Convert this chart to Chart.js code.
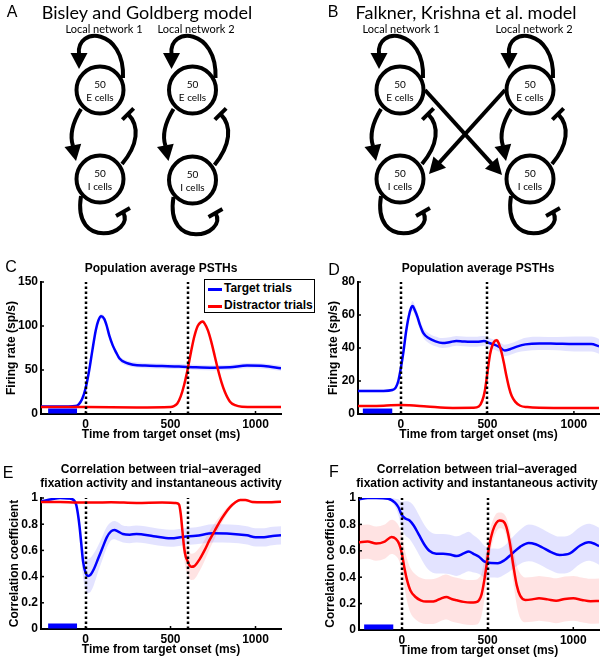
<!DOCTYPE html>
<html><head><meta charset="utf-8">
<script src="https://cdn.jsdelivr.net/npm/chart.js@4"></script>
<style>
body{margin:0;width:604px;height:662px;background:#fff;position:relative;overflow:hidden;font-family:"Liberation Sans",Arial,sans-serif;color:#000;}
.t{position:absolute;white-space:nowrap;transform:translate(-50%,-50%);z-index:5;}
canvas{position:absolute;}
.letter{font-size:16px;}
.ptitle{font-weight:bold;font-size:12px;text-align:center;line-height:14px;}
.net{font-family:Lato,"Open Sans",sans-serif;}
.big{font-size:18px;}
.small{font-size:11px;}
.cell{font-size:10px;text-align:center;line-height:13px;}
#legend{position:absolute;left:204px;top:279px;width:109px;height:32px;border:1.5px solid #000;background:#fff;z-index:6;font-weight:bold;font-size:12px;}
#legend .row{position:absolute;left:0;height:14px;}
#legend .sw{position:absolute;left:3px;top:6px;width:14px;height:2.5px;}
#legend .tx{position:absolute;left:19px;top:-1px;white-space:nowrap;}
</style></head><body>
<canvas id="diag" width="604" height="255" style="left:0;top:0"></canvas>
<canvas id="cC" width="302" height="187" style="left:0;top:255px"></canvas>
<canvas id="cD" width="302" height="187" style="left:302px;top:255px"></canvas>
<canvas id="cE" width="302" height="187" style="left:0;top:470px"></canvas>
<canvas id="cF" width="302" height="188" style="left:302px;top:470px"></canvas>

<div class="t letter" style="left:12px;top:12px">A</div>
<div class="t net big" style="left:147px;top:12px">Bisley and Goldberg model</div>
<div class="t letter" style="left:333px;top:12px">B</div>
<div class="t net big" style="left:466px;top:12px">Falkner, Krishna et al. model</div>
<div class="t net small" style="left:104px;top:28px">Local network 1</div>
<div class="t net small" style="left:196px;top:28px">Local network 2</div>
<div class="t net small" style="left:401px;top:28px">Local network 1</div>
<div class="t net small" style="left:534px;top:28px">Local network 2</div>
<div id="cells"></div>

<div class="t letter" style="left:11px;top:267px">C</div>
<div class="t ptitle" style="left:161px;top:268px">Population average PSTHs</div>
<div class="t letter" style="left:334px;top:270px">D</div>
<div class="t ptitle" style="left:478px;top:268px">Population average PSTHs</div>
<div class="t letter" style="left:8px;top:473px">E</div>
<div class="t ptitle" style="left:161px;top:476px">Correlation between trial&#8722;averaged<br>fixation activity and instantaneous activity</div>
<div class="t letter" style="left:334px;top:472px">F</div>
<div class="t ptitle" style="left:477px;top:476px">Correlation between trial&#8722;averaged<br>fixation activity and instantaneous activity</div>

<div id="legend">
  <div class="row" style="top:2px"><div class="sw" style="background:#0000ff"></div><div class="tx">Target trials</div></div>
  <div class="row" style="top:19px"><div class="sw" style="background:#ff0000"></div><div class="tx">Distractor trials</div></div>
</div>

<script>
// ---------- DATA ----------
const xTitle = 'Time from target onset (ms)';
const legendLabels = ['Target trials', 'Distractor trials'];
const fixationBar = [-220, -50];
const markersCE = [0, 600];
const markersDF = [0, 500];
const xTickValues = [0, 500, 1000];

// Panel C: Bisley & Goldberg PSTH (sp/s)
const cTgtT = [-262,-100,-60,-40,-20,0,20,40,60,75,92,110,125,140,160,180,200,240,280,350,450,550,650,750,850,950,1050,1150];
const cTgtV = [8.5,8.5,9,11,17,29,48,72,95,106,111,108,100,89,78,70,63,58,56,55,54.5,54,53,52.5,53,55,54.5,52];
const cTgtE = [1,1,1,1.5,2,2,2.5,3,3,3,3,3,3,3,3,3,3,3,3,3,3,3,3,3,3,3,3,3];
const cDisT = [-262,0,300,500,520,540,560,580,600,620,640,660,680,690,700,720,740,760,780,800,820,850,880,920,1000,1150];
const cDisV = [8,8,7.5,8,9,12,20,33,50,70,88,100,104.5,105,103,95,82,66,50,36,25,14,10,8.3,8,8];
const cDisE = [0.5,0.5,0.5,0.5,0.5,0.6,0.8,1,1.2,1.5,1.5,1.5,1.5,1.5,1.5,1.5,1.5,1.5,1.2,1,0.8,0.6,0.5,0.5,0.5,0.5];

// Panel D: Falkner, Krishna et al. PSTH (sp/s)
const dTgtT = [-248,-100,-50,-30,-15,0,15,30,45,60,68,80,95,110,130,160,200,240,280,320,360,400,440,480,510,540,570,600,630,670,720,800,900,1000,1100,1145];
const dTgtV = [14,14,14.5,16,20,28,38,50,59,64.5,65.5,63,59,54,49,46,44,43,43.5,44.3,44,43.8,43.8,44.2,43,42,40.5,38.5,39.2,40.8,42.2,42.8,42.6,42.4,42.4,41];
const dTgtE = [0.8,0.8,0.8,0.8,1,1.5,2,2.5,3,3,3,3,3,3,3,3,3,3,3,3,3,3,3,3,3,3,3,3.5,3.5,3.5,4,4,4,4.5,4.5,4.5];
const dDisT = [-248,-100,0,50,150,300,420,450,470,485,500,515,530,545,555,565,580,595,610,625,640,660,690,730,800,1000,1145];
const dDisV = [4.8,5,5.5,5.3,4.6,3.7,3.8,4.5,8,14,25,36,42,44.5,44.7,43,38,31,23,16,11,7.5,5,4.2,3.8,3.7,3.7];
const dDisE = [0.4,0.4,0.4,0.4,0.4,0.4,0.4,0.4,0.5,0.6,0.8,1,1,1,1,1,1,1,1,0.8,0.6,0.5,0.4,0.4,0.4,0.4,0.4];

// Panel E: correlation, Bisley & Goldberg
const eTgtT = [-262,-200,-150,-100,-70,-55,-45,-35,-25,-15,0,15,30,50,75,100,125,150,170,190,220,260,300,400,500,580,650,750,850,950,1000,1050,1100,1150];
const eTgtV = [0.975,0.99,1.0,0.997,0.985,0.95,0.88,0.78,0.65,0.52,0.43,0.405,0.415,0.46,0.54,0.62,0.7,0.745,0.755,0.745,0.725,0.72,0.725,0.708,0.692,0.705,0.712,0.73,0.728,0.715,0.7,0.7,0.71,0.715];
const eTgtE = [0.01,0.01,0.01,0.01,0.01,0.02,0.04,0.07,0.1,0.12,0.13,0.13,0.13,0.12,0.1,0.09,0.08,0.07,0.07,0.07,0.065,0.065,0.065,0.065,0.065,0.065,0.065,0.07,0.07,0.07,0.07,0.07,0.07,0.07];
const eDisT = [-262,-150,-50,50,150,300,450,530,550,560,570,580,590,600,610,622,640,670,700,730,760,790,820,850,880,910,940,980,1050,1150];
const eDisV = [0.97,0.97,0.965,0.965,0.968,0.962,0.965,0.962,0.95,0.88,0.75,0.62,0.55,0.52,0.49,0.475,0.48,0.53,0.6,0.68,0.75,0.82,0.88,0.93,0.965,0.985,0.985,0.97,0.968,0.972];
const eDisE = [0.005,0.005,0.005,0.005,0.005,0.005,0.005,0.01,0.02,0.04,0.06,0.08,0.09,0.1,0.1,0.1,0.1,0.09,0.08,0.07,0.06,0.04,0.03,0.02,0.01,0.01,0.01,0.01,0.01,0.01];

// Panel F: correlation, Falkner, Krishna et al.
const fTgtT = [-250,-200,-150,-80,-40,-20,0,20,45,70,100,130,160,200,240,280,320,360,390,420,450,480,520,560,600,640,690,740,780,820,870,920,980,1040,1090,1120,1150];
const fTgtV = [0.99,1.0,1.0,0.995,0.965,0.93,0.87,0.845,0.83,0.79,0.72,0.65,0.6,0.578,0.578,0.572,0.56,0.58,0.595,0.575,0.555,0.52,0.507,0.506,0.53,0.575,0.63,0.66,0.65,0.625,0.59,0.568,0.58,0.64,0.665,0.655,0.635];
const fTgtE = [0.01,0.01,0.01,0.01,0.03,0.06,0.1,0.13,0.14,0.15,0.15,0.15,0.15,0.15,0.15,0.15,0.15,0.15,0.15,0.14,0.13,0.12,0.11,0.11,0.11,0.12,0.13,0.14,0.14,0.14,0.14,0.14,0.14,0.14,0.14,0.14,0.14];
const fDisT = [-250,-200,-150,-100,-60,-35,-15,0,15,30,50,80,110,140,170,200,230,260,290,320,360,400,430,450,465,480,495,510,530,550,570,590,610,630,650,670,690,720,760,800,850,900,950,1000,1050,1100,1150];
const fDisV = [0.665,0.67,0.655,0.67,0.705,0.69,0.65,0.58,0.47,0.38,0.3,0.25,0.225,0.215,0.215,0.222,0.24,0.25,0.235,0.225,0.213,0.208,0.21,0.225,0.27,0.37,0.5,0.64,0.75,0.81,0.83,0.825,0.78,0.66,0.49,0.34,0.26,0.228,0.232,0.24,0.232,0.222,0.235,0.24,0.228,0.218,0.22];
const fDisE = [0.13,0.13,0.13,0.13,0.13,0.13,0.13,0.14,0.15,0.16,0.17,0.17,0.17,0.17,0.17,0.17,0.17,0.17,0.17,0.17,0.17,0.17,0.17,0.17,0.16,0.15,0.12,0.1,0.08,0.07,0.06,0.06,0.07,0.1,0.13,0.15,0.17,0.17,0.17,0.17,0.17,0.17,0.17,0.17,0.17,0.17,0.17];

// ---------- DIAGRAMS ----------
const dg = document.getElementById('diag').getContext('2d');
function arrowHead(ctx, tx, ty, ang, len, hw) {
  const bx = tx - len*Math.cos(ang), by = ty - len*Math.sin(ang);
  const px = -Math.sin(ang)*hw, py = Math.cos(ang)*hw;
  ctx.beginPath(); ctx.moveTo(tx,ty); ctx.lineTo(bx+px,by+py); ctx.lineTo(bx-px,by-py); ctx.closePath(); ctx.fill();
}
function tbar(ctx, x, y, ang, hl) {
  const px = -Math.sin(ang)*hl, py = Math.cos(ang)*hl;
  ctx.beginPath(); ctx.moveTo(x+px,y+py); ctx.lineTo(x-px,y-py); ctx.stroke();
}
const cellsDiv = document.getElementById('cells');
function cellText(x, y, l2) {
  const d = document.createElement('div');
  d.className = 't net cell'; d.style.left = x+'px'; d.style.top = y+'px';
  d.innerHTML = '50<br>' + l2; cellsDiv.appendChild(d);
}
function drawNet(ctx, cx, ey, iy) {
  ctx.lineWidth = 4; ctx.strokeStyle = '#000'; ctx.fillStyle = '#000'; ctx.lineCap = 'butt';
  [ey, iy].forEach(y => { ctx.beginPath(); ctx.arc(cx, y, 23.5, 0, Math.PI*2); ctx.stroke(); });
  // E self-excitation
  ctx.beginPath(); ctx.moveTo(cx+23, ey-12); ctx.bezierCurveTo(cx+25, ey-62, cx-24, ey-64, cx-21, ey-36); ctx.stroke();
  arrowHead(ctx, cx-21, ey-21, Math.PI/2, 16, 8.5);
  // E -> I
  ctx.beginPath(); ctx.moveTo(cx-19, ey+19); ctx.bezierCurveTo(cx-27, ey+32, cx-31, ey+44, cx-27, ey+56); ctx.stroke();
  arrowHead(ctx, cx-24, ey+71, Math.atan2(15,3), 16, 8.5);
  // I -| E
  ctx.beginPath(); ctx.moveTo(cx+22, iy-15); ctx.bezierCurveTo(cx+38, ey+55, cx+40, ey+36, cx+28, ey+24); ctx.stroke();
  tbar(ctx, cx+28, ey+24, Math.atan2(-12,-12), 8);
  // I self-inhibition
  ctx.beginPath(); ctx.moveTo(cx-19, iy+17); ctx.bezierCurveTo(cx-28, iy+72, cx+36, iy+56, cx+23, iy+33); ctx.stroke();
  tbar(ctx, cx+23, iy+33, Math.atan2(-23,-13), 8);
  cellText(cx, ey+1, 'E cells'); cellText(cx, iy+1, 'I cells');
}
function cross(ctx, x0, y0, tx, ty) {
  const ang = Math.atan2(ty-y0, tx-x0);
  ctx.beginPath(); ctx.moveTo(x0,y0); ctx.lineTo(tx-15*Math.cos(ang), ty-15*Math.sin(ang)); ctx.stroke();
  arrowHead(ctx, tx, ty, ang, 16, 8.5);
}
drawNet(dg, 100, 90, 179);
drawNet(dg, 192.5, 90, 180);
drawNet(dg, 400, 90, 179);
drawNet(dg, 530, 90, 179);
cross(dg, 425, 90, 502, 175);
cross(dg, 505, 90, 429, 174);

// ---------- CHARTS ----------
Chart.defaults.font.family = '"Liberation Sans", Arial, sans-serif';
Chart.defaults.font.size = 12;
Chart.defaults.font.weight = 'bold';
Chart.defaults.color = '#000';

const decor = {
  id: 'decor',
  afterDatasetsDraw(chart, args, opts) {
    const {ctx, chartArea, scales: {x, y}} = chart;
    ctx.save();
    ctx.strokeStyle = '#000';
    ctx.lineWidth = 2.5; ctx.setLineDash([2.5, 2.5]);
    (opts.vlines || []).forEach(t => {
      const px = Math.round(x.getPixelForValue(t));
      ctx.beginPath(); ctx.moveTo(px, chartArea.bottom); ctx.lineTo(px, chartArea.top); ctx.stroke();
    });
    ctx.setLineDash([]); ctx.lineWidth = 1.5;
    x.ticks.forEach(tk => {
      const px = x.getPixelForValue(tk.value);
      ctx.beginPath(); ctx.moveTo(px, chartArea.bottom); ctx.lineTo(px, chartArea.bottom - 3); ctx.stroke();
    });
    y.ticks.forEach(tk => {
      const py = y.getPixelForValue(tk.value);
      ctx.beginPath(); ctx.moveTo(chartArea.left, py); ctx.lineTo(chartArea.left + 3, py); ctx.stroke();
    });
    ctx.restore();
  }
};

const pts = (t, v, e, s) => t.map((tt, i) => ({x: tt, y: v[i] + (e ? s*e[i] : 0)}));
const lineDs = (data, color) => ({data, borderColor: color, borderWidth: 2.5, pointRadius: 0, cubicInterpolationMode: 'monotone', fill: false});
const bandDs = (data, color, fill) => ({data, borderColor: 'transparent', borderWidth: 0, pointRadius: 0, cubicInterpolationMode: 'monotone', backgroundColor: color, fill});

function panel(id, p) {
  const blueBand = 'rgba(0,0,255,0.11)', redBand = 'rgba(255,0,0,0.11)';
  const datasets = [
    {label: 'fixation', data: [{x: fixationBar[0], y: p.barY}, {x: fixationBar[1], y: p.barY}], borderColor: '#0000ff', borderWidth: 5, pointRadius: 0, borderCapStyle: 'butt', fill: false},
    Object.assign(lineDs(pts(p.dT, p.dV), '#ff0000'), {label: legendLabels[1]}),
    Object.assign(lineDs(pts(p.tT, p.tV), '#0000ff'), {label: legendLabels[0]}),
    bandDs(pts(p.tT, p.tV, p.tE, 1), blueBand, '+1'),
    bandDs(pts(p.tT, p.tV, p.tE, -1), 'transparent', false),
    bandDs(pts(p.dT, p.dV, p.dE, 1), redBand, '+1'),
    bandDs(pts(p.dT, p.dV, p.dE, -1), 'transparent', false)
  ];
  const fmt = v => String(Math.round(v * 100) / 100);
  new Chart(document.getElementById(id), {
    type: 'line',
    data: {datasets},
    options: {
      responsive: false, animation: false, devicePixelRatio: 1,
      layout: {padding: {top: p.padTop, right: p.padRight, left: 0, bottom: 0}},
      plugins: {legend: {display: false}, tooltip: {enabled: false}, decor: {vlines: p.vlines}},
      scales: {
        x: {type: 'linear', min: p.xMin, max: p.xMax,
            ticks: {padding: 3, maxRotation: 0, autoSkip: false, callback: fmt},
            afterBuildTicks(s) { s.ticks = xTickValues.map(v => ({value: v})); },
            grid: {drawOnChartArea: false, drawTicks: false},
            border: {color: '#000', width: 2},
            title: {display: true, text: xTitle, padding: 0},
            afterFit(s) { s.height = 28; }},
        y: {type: 'linear', min: 0, max: p.yMax,
            ticks: {stepSize: p.yStep, padding: 3, callback: fmt},
            grid: {drawOnChartArea: false, drawTicks: false},
            border: {color: '#000', width: 2},
            title: {display: true, text: p.yTitle, padding: {top: p.yTitlePad, bottom: 0}},
            afterFit(s) { s.width = p.yWidth; }}
      }
    },
    plugins: [decor]
  });
}

panel('cC', {tT: cTgtT, tV: cTgtV, tE: cTgtE, dT: cDisT, dV: cDisV, dE: cDisE, xMin: -262, xMax: 1150, yMax: 150, yStep: 50,
  yTitle: 'Firing rate (sp/s)', yTitlePad: 4.5, yWidth: 41, padTop: 27, padRight: 21, vlines: markersCE, barY: 3.4});
panel('cD', {tT: dTgtT, tV: dTgtV, tE: dTgtE, dT: dDisT, dV: dDisV, dE: dDisE, xMin: -248, xMax: 1145, yMax: 80, yStep: 20,
  yTitle: 'Firing rate (sp/s)', yTitlePad: 24.5, yWidth: 56, padTop: 27, padRight: 5, vlines: markersDF, barY: 1.8});
panel('cE', {tT: eTgtT, tV: eTgtV, tE: eTgtE, dT: eDisT, dV: eDisV, dE: eDisE, xMin: -262, xMax: 1150, yMax: 1, yStep: 0.2,
  yTitle: 'Correlation coefficient', yTitlePad: 7.5, yWidth: 41, padTop: 28, padRight: 21, vlines: markersCE, barY: 0.023});
panel('cF', {tT: fTgtT, tV: fTgtV, tE: fTgtE, dT: fDisT, dV: fDisV, dE: fDisE, xMin: -250, xMax: 1150, yMax: 1, yStep: 0.2,
  yTitle: 'Correlation coefficient', yTitlePad: 21, yWidth: 57, padTop: 28, padRight: 5, vlines: markersDF, barY: 0.023});
</script>
</body></html>
